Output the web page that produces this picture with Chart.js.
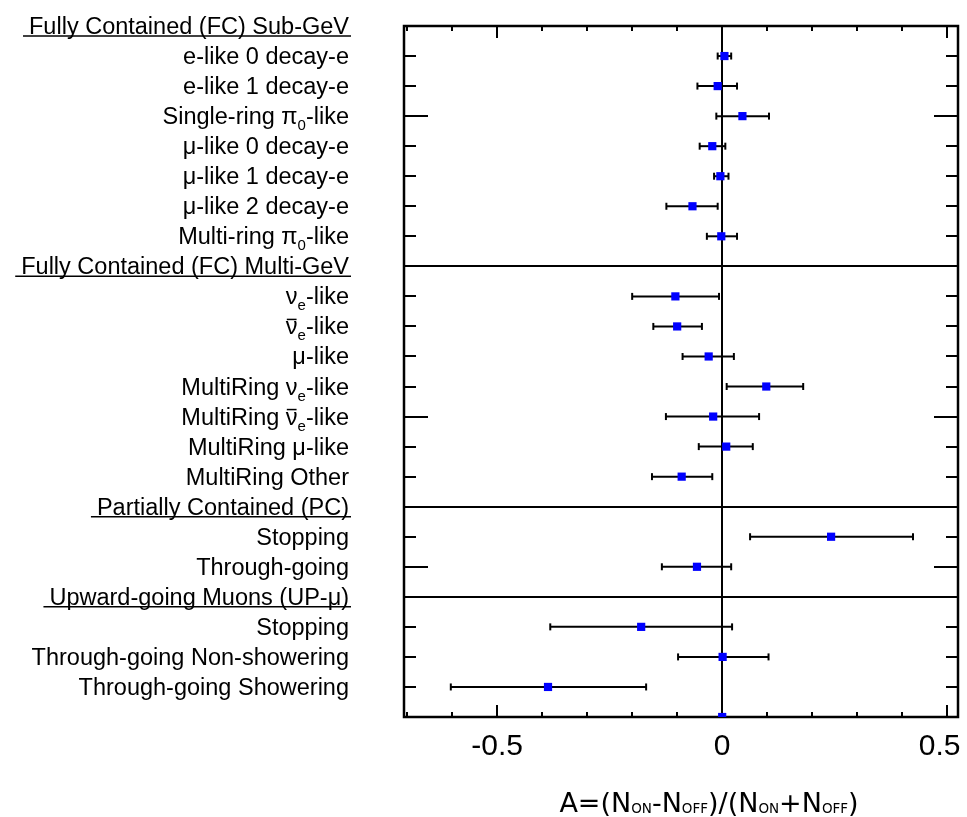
<!DOCTYPE html>
<html>
<head>
<meta charset="utf-8">
<title>Asymmetry by sample</title>
<script src="https://cdn.jsdelivr.net/npm/chart.js@4.4.1/dist/chart.umd.min.js"></script>
<style>
html, body { margin: 0; padding: 0; background: #fff; }
#wrap { width: 967px; height: 817px; position: relative; }
</style>
</head>
<body>
<div id="wrap"><canvas id="chart"></canvas></div>
<script>
// --- Data ---
// one row per sample, headers included; "_x" / "_{..}" = subscript, "\u0304" = bar over previous char
const rowLabels = [
	"Fully Contained (FC) Sub-GeV",
	"e-like 0 decay-e",
	"e-like 1 decay-e",
	"Single-ring π_0-like",
	"μ-like 0 decay-e",
	"μ-like 1 decay-e",
	"μ-like 2 decay-e",
	"Multi-ring π_0-like",
	"Fully Contained (FC) Multi-GeV",
	"ν_e-like",
	"ν\u0304_e-like",
	"μ-like",
	"MultiRing ν_e-like",
	"MultiRing ν\u0304_e-like",
	"MultiRing μ-like",
	"MultiRing Other",
	"Partially Contained (PC)",
	"Stopping",
	"Through-going",
	"Upward-going Muons (UP-μ)",
	"Stopping",
	"Through-going Non-showering",
	"Through-going Showering",
	"",
];
const headerRows = [0, 8, 16, 19];

const asym = [
	null, 0.005, -0.01, 0.045, -0.022, -0.004, -0.066, -0.002,
	null, -0.104, -0.1, -0.03, 0.098, -0.02, 0.009, -0.09,
	null, 0.242, -0.056,
	null, -0.18, 0.001, -0.387,
	0,
];
const errLow = [
	null, -0.01, -0.055, -0.013, -0.05, -0.018, -0.124, -0.034,
	null, -0.2, -0.153, -0.088, 0.01, -0.125, -0.052, -0.156,
	null, 0.062, -0.134,
	null, -0.382, -0.098, -0.603,
	null,
];
const errHigh = [
	null, 0.02, 0.033, 0.104, 0.007, 0.014, -0.01, 0.033,
	null, -0.007, -0.045, 0.026, 0.18, 0.082, 0.068, -0.022,
	null, 0.424, 0.02,
	null, 0.022, 0.103, -0.169,
	null,
];

const xTickLabels = [-0.5, 0, 0.5];
const xMinorTicks = [-0.7, -0.6, -0.5, -0.4, -0.3, -0.2, -0.1, 0, 0.1, 0.2, 0.3, 0.4, 0.5];
const X_MIN = -0.707;
const X_MAX = 0.524;
const axisTitle = "A=(N_{ON}-N_{OFF})/(N_{ON}+N_{OFF})";

// --- Helpers ---
function parseRuns(str) {
	const runs = [];
	let buf = "";
	const flush = () => {
		if (buf) runs.push({ t: buf });
		buf = "";
	};
	for (let i = 0; i < str.length; i++) {
		const ch = str[i];
		if (ch === "_") {
			flush();
			if (str[i + 1] === "{") {
				const end = str.indexOf("}", i);
				runs.push({ t: str.slice(i + 2, end), sub: true });
				i = end;
			} else {
				runs.push({ t: str[i + 1], sub: true });
				i++;
			}
		} else if (str[i + 1] === "\u0304") {
			flush();
			runs.push({ t: ch, bar: true });
			i++;
		} else {
			buf += ch;
		}
	}
	flush();
	return runs;
}

// draws rich text, returns [left, right]
function drawRich(ctx, str, x, baseline, align, fonts) {
	const runs = parseRuns(str);
	const widths = runs.map((r) => {
		ctx.font = r.sub ? fonts.sub : fonts.main;
		return ctx.measureText(r.t).width;
	});
	const total = widths.reduce((a, b) => a + b, 0);
	let cx = align === "right" ? x - total : align === "center" ? x - total / 2 : x;
	const left = cx;
	ctx.textAlign = "left";
	ctx.textBaseline = "alphabetic";
	runs.forEach((r, i) => {
		ctx.font = r.sub ? fonts.sub : fonts.main;
		ctx.fillText(r.t, cx, baseline + (r.sub ? fonts.subShift : 0));
		if (r.bar) {
			ctx.lineWidth = 1.5;
			ctx.beginPath();
			ctx.moveTo(cx + 1, baseline - fonts.barY);
			ctx.lineTo(cx + widths[i] - 1, baseline - fonts.barY);
			ctx.stroke();
		}
		cx += widths[i];
	});
	return [left, cx];
}

function seg(ctx, x1, y1, x2, y2) {
	ctx.beginPath();
	ctx.moveTo(x1, y1);
	ctx.lineTo(x2, y2);
	ctx.stroke();
}

// --- Plot decorations: frame, separators, inward ticks, error bars ---
const framePlugin = {
	id: "framePlugin",
	beforeDatasetsDraw(chart) {
		const { ctx, chartArea: a, scales } = chart;
		const x = scales.x, y = scales.y;
		ctx.save();
		ctx.strokeStyle = "#000";
		ctx.lineCap = "butt";

		// section separators
		ctx.lineWidth = 2;
		headerRows.slice(1).forEach((r) => {
			const py = Math.round(y.getPixelForValue(r));
			seg(ctx, a.left, py, a.right, py);
		});

		// zero line
		const x0 = Math.round(x.getPixelForValue(0));
		seg(ctx, x0, a.top, x0, a.bottom);

		// x ticks, top and bottom
		xMinorTicks.forEach((v) => {
			const px = Math.round(x.getPixelForValue(v));
			const len = xTickLabels.some((m) => Math.abs(m - v) < 1e-9) ? 12 : 5;
			seg(ctx, px, a.top, px, a.top + len);
			seg(ctx, px, a.bottom, px, a.bottom - len);
		});

		// y ticks, left and right
		for (let r = 1; r < rowLabels.length - 1; r++) {
			const py = Math.round(y.getPixelForValue(r));
			const len = (rowLabels.length - 1 - r) % 5 === 0 ? 24 : 12;
			seg(ctx, a.left, py, a.left + len, py);
			seg(ctx, a.right, py, a.right - len, py);
		}

		// frame
		ctx.lineWidth = 2.5;
		ctx.strokeRect(a.left, a.top, a.right - a.left, a.bottom - a.top);

		// error bars
		ctx.strokeStyle = "#000";
		ctx.lineWidth = 2;
		asym.forEach((v, r) => {
			if (v == null || errLow[r] == null) return;
			const py = y.getPixelForValue(r);
			const lo = x.getPixelForValue(errLow[r]);
			const hi = x.getPixelForValue(errHigh[r]);
			seg(ctx, lo, py, hi, py);
			seg(ctx, lo, py - 3.5, lo, py + 3.5);
			seg(ctx, hi, py - 3.5, hi, py + 3.5);
		});
		ctx.restore();
	},
	afterDraw(chart) {
		const { ctx, chartArea: a, scales } = chart;
		const y = scales.y;
		ctx.save();
		ctx.fillStyle = "#000";
		ctx.strokeStyle = "#000";
		const fonts = {
			main: '23.5px "Liberation Sans", Arial, sans-serif',
			sub: '15px "Liberation Sans", Arial, sans-serif',
			subShift: 6,
			barY: 15,
		};
		rowLabels.forEach((lbl, r) => {
			if (!lbl) return;
			const py = y.getPixelForValue(r);
			const base = py + 8;
			const [l, rr] = drawRich(ctx, lbl, 349, base, "right", fonts);
			if (headerRows.includes(r)) {
				ctx.lineWidth = 1.5;
				seg(ctx, l - 6, py + 10, rr + 2, py + 10);
			}
		});

		// axis title
		drawRich(ctx, axisTitle, (a.left + a.right) / 2 + 28, 812, "center", {
			main: '27px "DejaVu Sans", sans-serif',
			sub: '13.5px "DejaVu Sans", sans-serif',
			subShift: 1,
			barY: 0,
		});
		ctx.restore();
	},
};

// --- Chart ---
const points = asym
	.map((v, r) => (v == null ? null : { x: v, y: r }))
	.filter((p) => p);

new Chart(document.getElementById("chart"), {
	type: "scatter",
	data: {
		datasets: [
			{
				data: points,
				pointStyle: "rect",
				pointRadius: 5.8,
				pointHoverRadius: 5.8,
				backgroundColor: "#0000ff",
				borderColor: "#0000ff",
				borderWidth: 0,
			},
		],
	},
	options: {
		responsive: true,
		maintainAspectRatio: false,
		devicePixelRatio: 1,
		animation: false,
		layout: { padding: { left: 0, top: 26, right: 9, bottom: 0 } },
		plugins: {
			legend: { display: false },
			tooltip: { enabled: false },
		},
		scales: {
			x: {
				type: "linear",
				min: X_MIN,
				max: X_MAX,
				grid: { display: false, drawTicks: false },
				border: { display: false },
				ticks: {
					color: "#000",
					font: { family: "Liberation Sans", size: 30 },
					padding: 12,
					maxRotation: 0,
					// last label sits against the canvas edge, nudge it inward
					callback: (v, i, arr) => (i === arr.length - 1 ? v + "\u2002" : String(v)),
				},
				afterBuildTicks: (s) => {
					s.ticks = xTickLabels.map((v) => ({ value: v }));
				},
				afterFit: (s) => {
					s.height = 100;
					s.paddingLeft = 0;
					s.paddingRight = 0;
				},
			},
			y: {
				type: "linear",
				min: 0,
				max: rowLabels.length - 1,
				reverse: true,
				grid: { display: false, drawTicks: false },
				border: { display: false },
				ticks: { display: false },
				afterFit: (s) => {
					s.width = 404;
				},
			},
		},
	},
	plugins: [framePlugin],
});
</script>
</body>
</html>
